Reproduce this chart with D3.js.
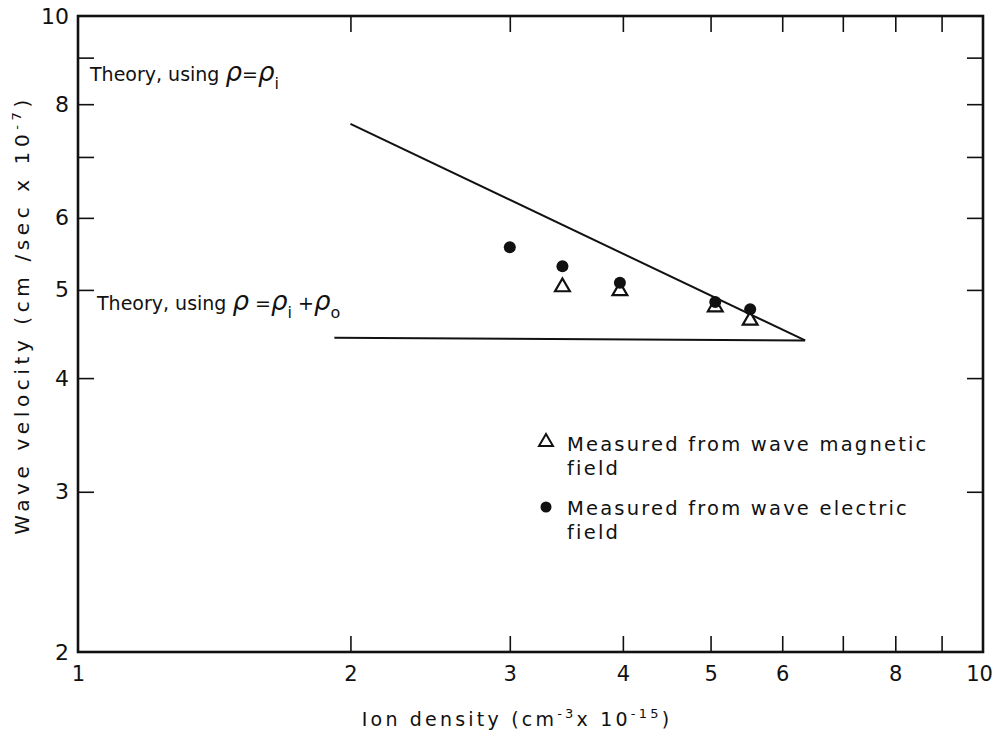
<!DOCTYPE html>
<html>
<head>
<meta charset="utf-8">
<script src="https://cdn.jsdelivr.net/npm/d3@7"></script>
<style>
  html, body { margin: 0; padding: 0; background: #fff; }
  svg { display: block; }
  text { font-family: "DejaVu Sans", sans-serif; fill: #111; }
</style>
</head>
<body>
<svg id="chart" width="995" height="737"></svg>
<script>
// Ion density (cm^-3 x 10^-15) and wave velocity (cm/sec x 10^-7)
const xTicks = [1, 2, 3, 4, 5, 6, 7, 8, 9, 10];
const xTickLabels = ["1", "2", "3", "4", "5", "6", "", "8", "", "10"];
const yTicks = [2, 3, 4, 5, 6, 7, 8, 9, 10];
const yTickLabels = ["2", "3", "4", "5", "6", "", "8", "", "10"];

// Theory lines
const theoryIonDensity = [2.0, 6.36];
const theoryIonVelocity = [7.61, 4.40];
const theoryTotalDensity = [1.92, 6.36];
const theoryTotalVelocity = [4.43, 4.40];

// Measurements
const magneticDensity = [3.43, 3.97, 5.06, 5.53];
const magneticVelocity = [5.05, 5.0, 4.80, 4.64];
const electricDensity = [3.0, 3.43, 3.97, 5.06, 5.53];
const electricVelocity = [5.57, 5.31, 5.09, 4.85, 4.76];

const svg = d3.select("#chart");
const m = { left: 78, right: 983, top: 16, bottom: 652 };

const x = d3.scaleLog().domain([1, 10]).range([m.left, m.right]);
const y = d3.scaleLog().domain([2, 10]).range([m.bottom, m.top]);

const tickLen = 16;
const fmtX = d => xTickLabels[xTicks.indexOf(d)];
const fmtY = d => yTickLabels[yTicks.indexOf(d)];

function styleAxis(g) {
  g.select(".domain").remove();
  g.selectAll(".tick line").attr("stroke", "#111").attr("stroke-width", 1.6);
  g.selectAll(".tick text").attr("font-size", 21).attr("fill", "#111");
}

// bottom axis, ticks pointing inward
svg.append("g")
  .attr("transform", `translate(0,${m.bottom})`)
  .call(d3.axisBottom(x).tickValues(xTicks.slice(1, -1)).tickSize(-tickLen).tickFormat(() => ""))
  .call(styleAxis);
svg.append("g")
  .attr("transform", `translate(0,${m.bottom})`)
  .call(d3.axisBottom(x).tickValues(xTicks).tickSize(0).tickPadding(14).tickFormat(fmtX))
  .call(styleAxis)
  .call(g => g.selectAll(".tick text").filter(d => d === 10).attr("dx", -4));

// top axis
svg.append("g")
  .attr("transform", `translate(0,${m.top})`)
  .call(d3.axisTop(x).tickValues(xTicks.slice(1, -1)).tickSize(-tickLen).tickFormat(() => ""))
  .call(styleAxis);

// left axis
svg.append("g")
  .attr("transform", `translate(${m.left},0)`)
  .call(d3.axisLeft(y).tickValues(yTicks.slice(1, -1)).tickSize(-tickLen).tickFormat(() => ""))
  .call(styleAxis);
svg.append("g")
  .attr("transform", `translate(${m.left},0)`)
  .call(d3.axisLeft(y).tickValues(yTicks).tickSize(0).tickPadding(9).tickFormat(fmtY))
  .call(styleAxis)
  .call(g => g.selectAll(".tick text").attr("font-size", 22));

// right axis
svg.append("g")
  .attr("transform", `translate(${m.right},0)`)
  .call(d3.axisRight(y).tickValues(yTicks.slice(1, -1)).tickSize(-tickLen).tickFormat(() => ""))
  .call(styleAxis);

// frame
svg.append("rect")
  .attr("x", m.left).attr("y", m.top)
  .attr("width", m.right - m.left).attr("height", m.bottom - m.top)
  .attr("fill", "none").attr("stroke", "#111").attr("stroke-width", 2.6);

// theory lines
const line = d3.line().x(d => x(d[0])).y(d => y(d[1]));
svg.append("path")
  .datum(d3.zip(theoryIonDensity, theoryIonVelocity))
  .attr("d", line).attr("fill", "none").attr("stroke", "#111").attr("stroke-width", 2);
svg.append("path")
  .datum(d3.zip(theoryTotalDensity, theoryTotalVelocity))
  .attr("d", line).attr("fill", "none").attr("stroke", "#111").attr("stroke-width", 2);

// measured points
const tri = d3.symbol().type(d3.symbolTriangle).size(95);
svg.selectAll(".mag")
  .data(d3.zip(magneticDensity, magneticVelocity))
  .join("path")
  .attr("class", "mag")
  .attr("d", tri)
  .attr("transform", d => `translate(${x(d[0])},${y(d[1]) + 1})`)
  .attr("fill", "#fff").attr("stroke", "#111").attr("stroke-width", 2.2);
svg.selectAll(".elec")
  .data(d3.zip(electricDensity, electricVelocity))
  .join("circle")
  .attr("class", "elec")
  .attr("cx", d => x(d[0])).attr("cy", d => y(d[1]))
  .attr("r", 6).attr("fill", "#111");

// annotations for the theory lines
const a1 = svg.append("text").attr("x", 90).attr("y", 81).attr("font-size", 19);
a1.append("tspan").text("Theory, using ");
a1.append("tspan").attr("font-style", "italic").attr("font-size", 26).text("ρ");
a1.append("tspan").text("=");
a1.append("tspan").attr("font-style", "italic").attr("font-size", 26).text("ρ");
a1.append("tspan").attr("dy", 8).attr("font-size", 16).text("i");

const a2 = svg.append("text").attr("x", 97).attr("y", 310).attr("font-size", 19);
a2.append("tspan").text("Theory, using ");
a2.append("tspan").attr("font-style", "italic").attr("font-size", 26).text("ρ");
a2.append("tspan").text(" =");
a2.append("tspan").attr("font-style", "italic").attr("font-size", 26).text("ρ");
a2.append("tspan").attr("dy", 8).attr("font-size", 16).text("i");
a2.append("tspan").attr("dy", -8).text(" +");
a2.append("tspan").attr("font-style", "italic").attr("font-size", 26).text("ρ");
a2.append("tspan").attr("dy", 8).attr("font-size", 16).text("o");

// legend
const legendFont = 19.5;
const legendSpacing = 2.2;
svg.append("path")
  .attr("d", d3.symbol().type(d3.symbolTriangle).size(85))
  .attr("transform", `translate(546,${442})`)
  .attr("fill", "#fff").attr("stroke", "#111").attr("stroke-width", 2);
svg.append("text").attr("x", 567).attr("y", 451).attr("font-size", legendFont)
  .attr("letter-spacing", legendSpacing).text("Measured from wave magnetic");
svg.append("text").attr("x", 567).attr("y", 475).attr("font-size", legendFont)
  .attr("letter-spacing", legendSpacing).text("field");
svg.append("circle").attr("cx", 546).attr("cy", 507).attr("r", 5.5).attr("fill", "#111");
svg.append("text").attr("x", 567).attr("y", 515).attr("font-size", legendFont)
  .attr("letter-spacing", legendSpacing).text("Measured from wave electric");
svg.append("text").attr("x", 567).attr("y", 539).attr("font-size", legendFont)
  .attr("letter-spacing", legendSpacing).text("field");

// axis titles
const xt = svg.append("text").attr("x", 517).attr("y", 726)
  .attr("text-anchor", "middle").attr("font-size", 19).attr("letter-spacing", 3.2);
xt.append("tspan").text("Ion  density  (cm");
xt.append("tspan").attr("dy", -8).attr("font-size", 13).text("-3");
xt.append("tspan").attr("dy", 8).text("x  10");
xt.append("tspan").attr("dy", -8).attr("font-size", 13).text("-15");
xt.append("tspan").attr("dy", 8).text(")");

const yt = svg.append("text")
  .attr("transform", "translate(29,315) rotate(-90)")
  .attr("text-anchor", "middle").attr("font-size", 20).attr("letter-spacing", 4.6);
yt.append("tspan").text("Wave  velocity  (cm /sec x 10");
yt.append("tspan").attr("dy", -8).attr("font-size", 13).text("-7");
yt.append("tspan").attr("dy", 8).text(")");
</script>
</body>
</html>
